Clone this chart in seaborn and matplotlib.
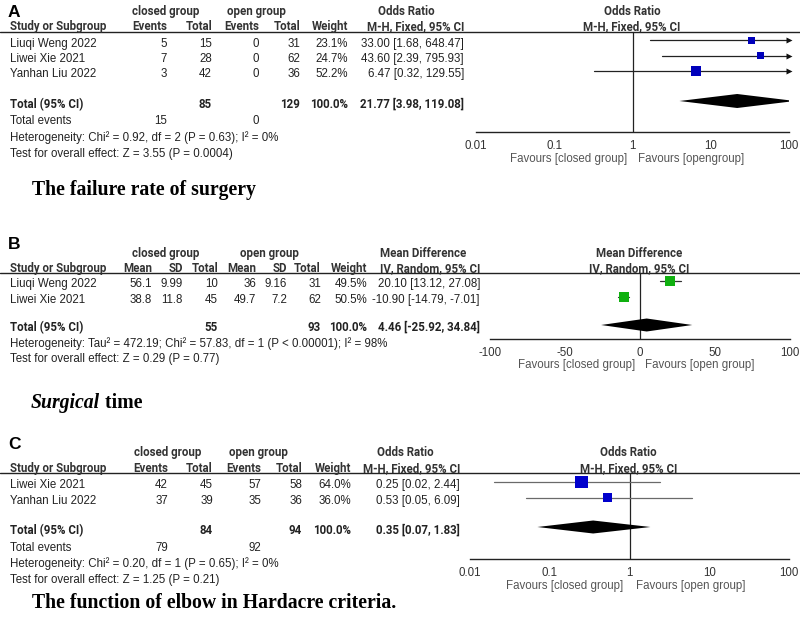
import numpy as np
import pandas as pd
import matplotlib
matplotlib.use("Agg")
import matplotlib.pyplot as plt
import seaborn as sns

# ---------------- data ----------------
# Panel A: failure rate of surgery (Odds Ratio, M-H fixed)
a_studies = ["Liuqi Weng 2022", "Liwei Xie 2021", "Yanhan Liu 2022"]
a_events_closed = [5, 7, 3]
a_total_closed = [15, 28, 42]
a_events_open = [0, 0, 0]
a_total_open = [31, 62, 36]
a_weight = [23.1, 24.7, 52.2]
a_or = [33.00, 43.60, 6.47]
a_lo = [1.68, 2.39, 0.32]
a_hi = [648.47, 795.93, 129.55]
a_sum = [21.77, 3.98, 119.08]          # pooled OR, lower, upper
a_sum_totals = [85, 129]
a_sum_events = [15, 0]
a_het = "Heterogeneity: Chi\u00b2 = 0.92, df = 2 (P = 0.63); I\u00b2 = 0%"
a_test = "Test for overall effect: Z = 3.55 (P = 0.0004)"

# Panel B: surgical time (Mean Difference, IV random)
b_studies = ["Liuqi Weng 2022", "Liwei Xie 2021"]
b_mean_closed = [56.1, 38.8]
b_sd_closed = [9.99, 11.8]
b_total_closed = [10, 45]
b_mean_open = [36, 49.7]
b_sd_open = [9.16, 7.2]
b_total_open = [31, 62]
b_weight = [49.5, 50.5]
b_md = [20.10, -10.90]
b_lo = [13.12, -14.79]
b_hi = [27.08, -7.01]
b_sum = [4.46, -25.92, 34.84]
b_sum_totals = [55, 93]
b_het = "Heterogeneity: Tau\u00b2 = 472.19; Chi\u00b2 = 57.83, df = 1 (P < 0.00001); I\u00b2 = 98%"
b_test = "Test for overall effect: Z = 0.29 (P = 0.77)"

# Panel C: function of elbow (Odds Ratio, M-H fixed)
c_studies = ["Liwei Xie 2021", "Yanhan Liu 2022"]
c_events_closed = [42, 37]
c_total_closed = [45, 39]
c_events_open = [57, 35]
c_total_open = [58, 36]
c_weight = [64.0, 36.0]
c_or = [0.25, 0.53]
c_lo = [0.02, 0.05]
c_hi = [2.44, 6.09]
c_sum = [0.35, 0.07, 1.83]
c_sum_totals = [84, 94]
c_sum_events = [79, 92]
c_het = "Heterogeneity: Chi\u00b2 = 0.20, df = 1 (P = 0.65); I\u00b2 = 0%"
c_test = "Test for overall effect: Z = 1.25 (P = 0.21)"

or_ticks = [0.01, 0.1, 1, 10, 100]
or_ticklabels = ["0.01", "0.1", "1", "10", "100"]
md_ticks = [-100, -50, 0, 50, 100]
md_ticklabels = ["-100", "-50", "0", "50", "100"]

# ---------------- style ----------------
sns.set_theme(style="white")
plt.rcParams["font.family"] = ["Liberation Sans", "DejaVu Sans"]
plt.rcParams["axes.unicode_minus"] = False

W, H, DPI = 800, 622, 100
FS = 8.3
FSB = 8.3
BOLD_FAMILY = ["Roboto", "Liberation Sans", "DejaVu Sans"]
TXT = "#222222"
HDR = "#333333"
GREY = "#555555"

fig = plt.figure(figsize=(W / DPI, H / DPI), dpi=DPI)
fig.patch.set_facecolor("white")
ov = fig.add_axes([0, 0, 1, 1])
ov.set_xlim(0, W)
ov.set_ylim(H, 0)
ov.axis("off")


def txt(x, yc, s, ha="left", bold=False, color=TXT, size=None, family=None, **kw):
    """Text placed by the pixel y of its cap centre."""
    if size is None:
        size = FSB if bold else FS
    if family is None and bold:
        family = BOLD_FAMILY
    off = 0.36 * size * DPI / 72
    extra = {"family": family} if family is not None else {}
    ov.text(x, yc + off, s, ha=ha, va="baseline", fontsize=size,
            fontweight="bold" if bold else "normal", color=color, **extra, **kw)


def fmt_ci(e, l, h):
    return f"{e:.2f} [{l:.2f}, {h:.2f}]"


def forest(x0, x1, ytop, ybot, xlim, log, ticks, labels, null,
           ys, est, lo, hi, weight, ysum, summ, color, lcolor, smax, dh):
    ax = fig.add_axes([x0 / W, 1 - ybot / H, (x1 - x0) / W, (ybot - ytop) / H])
    ax.patch.set_alpha(0)
    if log:
        ax.set_xscale("log")
    ax.set_xlim(*xlim)
    ax.set_ylim(ybot, ytop)
    for s in ["top", "left", "right"]:
        ax.spines[s].set_visible(False)
    ax.spines["bottom"].set_color("#222222")
    ax.spines["bottom"].set_linewidth(1.0)
    ax.set_xticks(ticks)
    ax.set_xticklabels(labels)
    ax.minorticks_off()
    ax.set_yticks([])
    ax.tick_params(axis="x", direction="inout", length=8, width=1,
                   color="#222222", labelsize=FS, labelcolor="#333333", pad=1.5)
    ax.axvline(null, color="#222222", lw=0.9, zorder=2)
    xmin, xmax = xlim
    for yy, l, h in zip(ys, lo, hi):
        ax.plot([max(l, xmin), min(h, xmax)], [yy, yy], color=lcolor, lw=0.9, zorder=2)
        if h > xmax:
            ax.plot([xmax], [yy], marker=">", ms=5, color="#111111",
                    mec="none", clip_on=False, zorder=3)
    df = pd.DataFrame({"est": est, "y": ys, "w": weight})
    sns.scatterplot(data=df, x="est", y="y", size="w", sizes=(0, smax),
                    size_norm=(0, 100), marker="s", color=color, linewidth=0,
                    legend=False, ax=ax, zorder=4)
    e, l, h = summ
    ax.fill([l, e, h, e], [ysum, ysum - dh, ysum, ysum + dh],
            color="black", lw=0, zorder=3)
    ax.set_xlabel("")
    ax.set_ylabel("")
    nx = (x1 - x0) * (np.log10(null / xmin) / np.log10(xmax / xmin) if log
                      else (null - xmin) / (xmax - xmin)) + x0
    return nx


def caption(x, base, parts):
    r = fig.canvas.get_renderer()
    for s, style in parts:
        t = ov.text(x, base, s, ha="left", va="baseline", fontsize=14.2,
                    fontweight="bold", fontstyle=style, color="black",
                    family=["Liberation Serif", "DejaVu Serif"])
        bb = t.get_window_extent(renderer=r)
        x += bb.width


# ================= Panel A =================
LINE_A = 32
txt(8, 10.5, "A", bold=True, size=12.5, color="black", family=["Liberation Sans"])
for s, xc in [("closed group", 166), ("open group", 256), ("Odds Ratio", 406)]:
    txt(xc, 11, s, ha="center", bold=True, color=HDR)
txt(10, 25.5, "Study or Subgroup", bold=True, color=HDR)
for s, xr in [("Events", 167), ("Total", 212), ("Events", 259), ("Total", 300),
              ("Weight", 348), ("M-H, Fixed, 95% CI", 464)]:
    txt(xr, 25.5, s, ha="right", bold=True, color=HDR)
ov.plot([0, W], [LINE_A, LINE_A], color="#222222", lw=1.0)
rows_a = [42.7 + 15.3 * i for i in range(len(a_studies))]
for i, yc in enumerate(rows_a):
    txt(10, yc, a_studies[i])
    for v, xr in [(a_events_closed[i], 167), (a_total_closed[i], 212),
                  (a_events_open[i], 259), (a_total_open[i], 300)]:
        txt(xr, yc, str(v), ha="right")
    txt(348, yc, f"{a_weight[i]:.1f}%", ha="right")
    txt(464, yc, fmt_ci(a_or[i], a_lo[i], a_hi[i]), ha="right")
ya_tot = 104
txt(10, ya_tot, "Total (95% CI)", bold=True)
txt(212, ya_tot, str(a_sum_totals[0]), ha="right", bold=True)
txt(300, ya_tot, str(a_sum_totals[1]), ha="right", bold=True)
txt(348, ya_tot, "100.0%", ha="right", bold=True)
txt(464, ya_tot, fmt_ci(*a_sum), ha="right", bold=True)
txt(10, 120, "Total events")
txt(167, 120, str(a_sum_events[0]), ha="right")
txt(259, 120, str(a_sum_events[1]), ha="right")
txt(10, 136.5, a_het)
txt(10, 152.5, a_test)
caption(32, 195, [("The failure rate of surgery", "normal")])

txt(632, 11, "Odds Ratio", ha="center", bold=True, color=HDR)
txt(632, 25.5, "M-H, Fixed, 95% CI", ha="center", bold=True, color=HDR)
nx = forest(476, 789, LINE_A, 132, (0.01, 100), True, or_ticks, or_ticklabels, 1,
            [y - 2.5 for y in rows_a], a_or, a_lo, a_hi, a_weight, ya_tot - 3,
            a_sum, "#0000BB", "#222222", 100, 7)
txt(nx - 5, 158, "Favours [closed group]", ha="right", color=GREY)
txt(nx + 5, 158, "Favours [opengroup]", ha="left", color=GREY)

# ================= Panel B =================
LINE_B = 273
txt(8, 243, "B", bold=True, size=12.5, color="black", family=["Liberation Sans"])
for s, xc in [("closed group", 166), ("open group", 269), ("Mean Difference", 423)]:
    txt(xc, 253, s, ha="center", bold=True, color=HDR)
txt(10, 268, "Study or Subgroup", bold=True, color=HDR)
b_cols = [152, 183, 218, 256, 287, 321]
for s, xr in zip(["Mean", "SD", "Total", "Mean", "SD", "Total"], b_cols):
    txt(xr, 268, s, ha="right", bold=True, color=HDR)
txt(367, 268, "Weight", ha="right", bold=True, color=HDR)
txt(480, 268, "IV, Random, 95% CI", ha="right", bold=True, color=HDR)
ov.plot([0, W], [LINE_B, LINE_B], color="#222222", lw=1.0)
rows_b = [283.3 + 15.5 * i for i in range(len(b_studies))]
for i, yc in enumerate(rows_b):
    txt(10, yc, b_studies[i])
    vals = [b_mean_closed[i], b_sd_closed[i], b_total_closed[i],
            b_mean_open[i], b_sd_open[i], b_total_open[i]]
    for v, xr in zip(vals, b_cols):
        txt(xr, yc, f"{v:g}", ha="right")
    txt(367, yc, f"{b_weight[i]:.1f}%", ha="right")
    txt(480, yc, fmt_ci(b_md[i], b_lo[i], b_hi[i]), ha="right")
yb_tot = 327
txt(10, yb_tot, "Total (95% CI)", bold=True)
txt(218, yb_tot, str(b_sum_totals[0]), ha="right", bold=True)
txt(321, yb_tot, str(b_sum_totals[1]), ha="right", bold=True)
txt(367, yb_tot, "100.0%", ha="right", bold=True)
txt(480, yb_tot, fmt_ci(*b_sum), ha="right", bold=True)
txt(10, 343, b_het)
txt(10, 357.5, b_test)
caption(31, 408, [("Surgical", "italic"), (" time", "normal")])

txt(639, 253, "Mean Difference", ha="center", bold=True, color=HDR)
txt(639, 268, "IV, Random, 95% CI", ha="center", bold=True, color=HDR)
nx = forest(490, 790, LINE_B, 339, (-100, 100), False, md_ticks, md_ticklabels, 0,
            [y - 2 for y in rows_b], b_md, b_lo, b_hi, b_weight, yb_tot - 2,
            b_sum, "#10B010", "#333333", 100, 6.5)
txt(nx - 5, 364, "Favours [closed group]", ha="right", color=GREY)
txt(nx + 5, 364, "Favours [open group]", ha="left", color=GREY)

# ================= Panel C =================
LINE_C = 473
txt(8, 443, "C", bold=True, size=12.5, color="black", family=["Liberation Sans"])
for s, xc in [("closed group", 168), ("open group", 258), ("Odds Ratio", 405)]:
    txt(xc, 452, s, ha="center", bold=True, color=HDR)
txt(10, 468, "Study or Subgroup", bold=True, color=HDR)
for s, xr in [("Events", 168), ("Total", 213), ("Events", 261), ("Total", 302),
              ("Weight", 351), ("M-H, Fixed, 95% CI", 460)]:
    txt(xr, 468, s, ha="right", bold=True, color=HDR)
ov.plot([0, W], [LINE_C, LINE_C], color="#222222", lw=1.0)
rows_c = [484 + 15.7 * i for i in range(len(c_studies))]
for i, yc in enumerate(rows_c):
    txt(10, yc, c_studies[i])
    for v, xr in [(c_events_closed[i], 168), (c_total_closed[i], 213),
                  (c_events_open[i], 261), (c_total_open[i], 302)]:
        txt(xr, yc, str(v), ha="right")
    txt(351, yc, f"{c_weight[i]:.1f}%", ha="right")
    txt(460, yc, fmt_ci(c_or[i], c_lo[i], c_hi[i]), ha="right")
yc_tot = 530
txt(10, yc_tot, "Total (95% CI)", bold=True)
txt(213, yc_tot, str(c_sum_totals[0]), ha="right", bold=True)
txt(302, yc_tot, str(c_sum_totals[1]), ha="right", bold=True)
txt(351, yc_tot, "100.0%", ha="right", bold=True)
txt(460, yc_tot, fmt_ci(*c_sum), ha="right", bold=True)
txt(10, 546.5, "Total events")
txt(168, 546.5, str(c_sum_events[0]), ha="right")
txt(261, 546.5, str(c_sum_events[1]), ha="right")
txt(10, 563, c_het)
txt(10, 579, c_test)
caption(32, 608, [("The function of elbow in Hardacre criteria.", "normal")])

txt(628, 452, "Odds Ratio", ha="center", bold=True, color=HDR)
txt(629, 468, "M-H, Fixed, 95% CI", ha="center", bold=True, color=HDR)
nx = forest(470, 789, LINE_C, 559, (0.01, 100), True, or_ticks, or_ticklabels, 1,
            [y - 2 for y in rows_c], c_or, c_lo, c_hi, c_weight, yc_tot - 3,
            c_sum, "#0000CC", "#6A6A6A", 120, 6.5)
txt(nx - 6, 585, "Favours [closed group]", ha="right", color=GREY)
txt(nx + 6, 585, "Favours [open group]", ha="left", color=GREY)

fig.savefig("out.png", dpi=DPI, facecolor="white")
